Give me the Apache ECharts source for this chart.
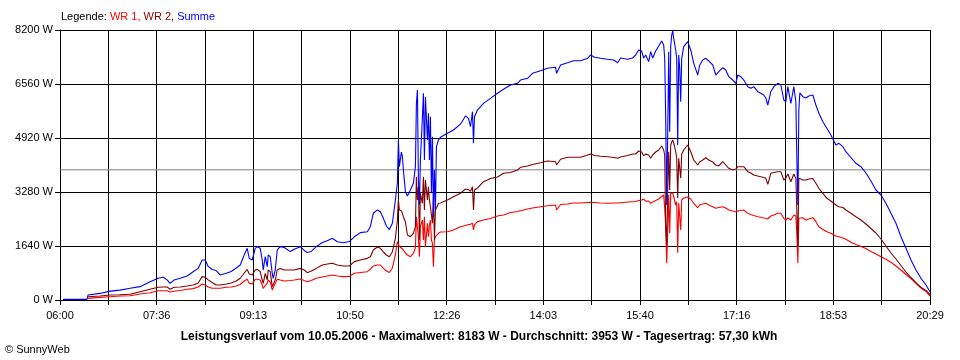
<!DOCTYPE html>
<html><head><meta charset="utf-8">
<script src="https://cdn.jsdelivr.net/npm/echarts@6/dist/echarts.min.js"></script>
<style>html,body{margin:0;padding:0;background:#fff}#c{width:960px;height:360px}</style>
</head><body><div id="c"></div>
<script>
const xTickLabels = ['06:00','07:36','09:13','10:50','12:26','14:03','15:40','17:16','18:53','20:29'];
const yMax = 8200;
const yStep = 1640;
const average = 3953;
const titleText = 'Leistungsverlauf vom 10.05.2006 - Maximalwert: 8183 W - Durchschnitt: 3953 W - Tagesertrag: 57,30 kWh';
const copyrightText = '\u00A9 SunnyWeb';
const seriesNames = ['WR 1', 'WR 2', 'Summe'];

const times = ['06:03','06:27','06:28','06:40','06:50','07:00','07:10','07:20','07:30','07:38','07:43','07:47','07:50','07:54','08:00','08:07','08:13','08:18','08:22','08:25','08:28','08:32','08:36','08:40','08:46','08:51','08:56','09:00','09:04','09:07','09:09','09:12','09:15','09:17','09:20','09:22','09:23','09:25','09:27','09:28','09:30','09:32','09:33','09:35','09:37','09:40','09:44','09:50','09:54','10:00','10:04','10:07','10:11','10:16','10:22','10:27','10:32','10:37','10:43','10:49','10:54','11:00','11:07','11:10','11:13','11:17','11:20','11:23','11:26','11:29','11:32','11:35','11:37','11:38','11:39','11:41','11:42','11:43','11:45','11:47','11:50','11:53','11:55','11:56','11:57','11:58','11:59','12:00','12:02','12:03','12:04','12:05','12:07','12:08','12:09','12:10','12:11','12:12','12:13','12:14','12:15','12:16','12:18','12:20','12:27','12:33','12:40','12:45','12:48','12:50','12:52','12:53','12:54','12:57','13:03','13:10','13:17','13:23','13:30','13:37','13:40','13:47','13:52','14:00','14:07','14:15','14:16','14:20','14:27','14:33','14:40','14:47','14:50','14:54','15:00','15:07','15:13','15:17','15:20','15:27','15:32','15:35','15:38','15:41','15:43','15:45','15:48','15:50','15:52','15:55','15:58','16:01','16:03','16:04','16:05','16:06','16:07','16:08','16:09','16:10','16:11','16:12','16:13','16:15','16:16','16:17','16:18','16:19','16:20','16:21','16:23','16:27','16:30','16:33','16:37','16:39','16:42','16:45','16:48','16:52','16:55','16:58','17:02','17:05','17:08','17:12','17:15','17:17','17:20','17:23','17:27','17:30','17:33','17:37','17:40','17:43','17:45','17:47','17:50','17:53','17:57','18:00','18:03','18:05','18:07','18:10','18:13','18:15','18:16','18:17','18:18','18:19','18:22','18:25','18:28','18:32','18:35','18:38','18:42','18:46','18:50','18:55','18:58','19:02','19:05','19:10','19:15','19:20','19:25','19:30','19:35','19:40','19:45','19:50','19:55','20:00','20:05','20:10','20:15','20:20','20:25','20:29'];

const wr1 = [null,null,50,80,100,120,130,180,220,280,280,280,245,265,290,325,345,395,485,455,395,355,355,355,385,395,425,470,577,630,505,485,630,630,607,456,355,440,505,607,547,304,250,505,630,607,577,590,607,640,590,555,590,660,700,730,760,730,710,715,810,835,860,940,1033,1063,1063,963,880,835,972,1367,1770,1770,1620,1579,1610,1519,1427,1367,1315,1418,1579,2530,2226,1922,1315,2226,2430,1822,2530,1619,2330,1922,2278,2430,1822,1722,1011,1822,1922,1944,2026,2065,2074,2126,2226,2260,2290,2300,2330,2130,2280,2380,2430,2475,2550,2580,2657,2688,2712,2764,2794,2834,2864,2885,2733,2900,2916,2946,2946,2961,2967,2960,2946,2937,2946,2946,2955,2976,2985,2990,3020,3037,3067,3000,3007,2937,2976,3022,3067,3143,3189,2785,2226,1115,2074,3189,2035,3240,3240,3250,3128,2885,2985,1436,2937,2885,2126,3037,3098,3128,3067,2937,2803,2885,2916,2937,2885,2833,2785,2809,2833,2794,2733,2703,2682,2703,2718,2733,2633,2597,2566,2530,2511,2490,2481,2460,2551,2581,2633,2633,2481,2430,2490,2430,2581,2551,1974,1115,2481,2521,2500,2430,2460,2500,2378,2226,2141,2074,2026,1944,1922,1883,1843,1752,1686,1625,1564,1473,1397,1315,1236,1145,1033,911,774,647,507,364,258,120];

const wr2 = [null,null,100,120,150,160,175,250,325,385,395,395,325,385,395,425,455,515,710,690,610,530,455,455,485,515,575,660,820,930,790,760,910,930,860,607,505,810,607,911,860,405,355,607,911,960,910,910,910,960,910,830,880,960,1063,1093,1115,1063,1033,1033,1165,1215,1265,1315,1519,1610,1570,1458,1367,1315,1467,1875,2430,3037,2733,2703,2633,2530,2369,1974,1922,2025,2226,3745,3037,3441,1822,3240,2937,3745,2733,3644,3037,3441,3037,2833,2581,2329,3137,1822,2733,2794,2937,2946,3037,3137,3240,3370,3350,3300,3440,2733,3340,3400,3593,3690,3735,3848,3872,3948,4030,4070,4115,4170,4221,4200,4100,4273,4334,4334,4334,4404,4434,4388,4364,4352,4328,4303,4343,4388,4434,4434,4525,4495,4383,4430,4404,4303,4404,4495,4556,4677,4556,4404,2278,1670,3289,4505,3340,4707,4798,4860,4768,4504,4313,3089,4303,4252,3696,4434,4556,4707,4504,4252,4100,4191,4252,4322,4252,4191,4100,4070,4200,4100,4000,3948,3978,4048,4048,4048,3897,3857,3796,3766,3745,3720,3696,3514,3848,3872,3897,3897,3644,3705,3827,3593,3827,3696,2682,1640,3696,3705,3644,3644,3675,3690,3544,3392,3240,3089,3007,2885,2833,2809,2733,2633,2530,2430,2308,2171,2035,1853,1640,1427,1245,1048,850,683,531,380,289,167];

const summe = [20,20,150,200,270,300,355,405,555,660,690,610,505,610,660,730,860,960,1215,1215,1020,925,895,760,810,865,970,1063,1367,1570,1265,1215,1570,1620,1570,1215,911,1315,1010,1367,1315,810,660,911,1519,1620,1595,1470,1540,1620,1505,1440,1475,1620,1745,1800,1875,1770,1740,1775,1920,2045,2075,2225,2635,2735,2680,2480,2247,2140,2330,3037,3545,4860,4050,4495,4352,3948,3290,3158,3341,3545,4050,5975,6378,3644,2900,4250,5567,6277,4252,6174,4859,5670,4252,5567,3240,4960,2530,3948,2733,4656,4859,4941,5063,5163,5340,5590,5518,5263,5720,4758,5567,5770,5973,6125,6277,6399,6530,6581,6681,6733,6884,6964,7037,7067,6885,7137,7207,7268,7268,7340,7441,7370,7340,7310,7289,7207,7350,7310,7350,7441,7593,7560,7350,7440,7239,7541,7350,7562,7714,7866,7745,7341,5518,2885,5011,7541,5112,7700,8048,8183,7947,7593,7341,4707,7441,7037,6022,7341,7693,7845,7593,7188,6833,7137,7289,7341,7259,7137,6833,6934,7055,6985,6782,6681,6581,6833,6782,6681,6479,6429,6479,6326,6277,6226,6135,5922,6326,6479,6581,6530,6074,6022,6479,5970,6479,6022,4303,2885,5770,6290,6176,6135,6196,6226,5922,5670,5415,5214,5011,4707,4758,4656,4504,4328,4152,4048,3857,3614,3341,3189,2937,2633,2329,1922,1570,1215,911,659,456,252];

const startMin = 6 * 60;
const endMin = 20 * 60 + 29;
const span = endMin - startMin;
const xStep = span / 18;
function toX(t) { const p = t.split(':').map(Number); return p[0] * 60 + p[1] - startMin; }
const pairs = arr => times.map((t, i) => [toX(t), arr[i]]);

const FONT = 'Liberation Sans, Arial, sans-serif';
const chart = echarts.init(document.getElementById('c'), null, { renderer: 'canvas' });
const lineSeries = (name, data, color, z) => ({
  name, type: 'line', data: pairs(data), showSymbol: false, symbol: 'none',
  lineStyle: { color, width: 1.1 }, itemStyle: { color }, z, animation: false, connectNulls: false
});

chart.setOption({
  backgroundColor: '#ffffff',
  animation: false,
  textStyle: { fontFamily: FONT },
  grid: { left: 60, right: 30, top: 30, bottom: 60, containLabel: false },
  xAxis: {
    type: 'value', min: 0, max: span, interval: xStep,
    axisLine: { show: true, lineStyle: { color: '#000', width: 1 } },
    axisTick: { show: true, length: 5, lineStyle: { color: '#000', width: 1 } },
    splitLine: { show: true, lineStyle: { color: '#000', width: 1 } },
    axisLabel: {
      color: '#000', fontSize: 11, fontFamily: FONT, margin: 10, hideOverlap: false,
      showMinLabel: true, showMaxLabel: true,
      formatter: v => { const k = Math.round(v / xStep); return k % 2 === 0 ? xTickLabels[k / 2] : ''; }
    }
  },
  yAxis: {
    type: 'value', min: 0, max: yMax, interval: yStep,
    axisLine: { show: true, lineStyle: { color: '#000', width: 1 } },
    axisTick: { show: true, length: 5, lineStyle: { color: '#000', width: 1 } },
    splitLine: { show: true, lineStyle: { color: '#000', width: 1 } },
    axisLabel: { color: '#000', fontSize: 11, fontFamily: FONT, margin: 7, formatter: v => String(Math.round(v)) + ' W' }
  },
  series: [
    { name: 'avg', type: 'line', data: [[0, average], [span, average]], showSymbol: false, symbol: 'none',
      lineStyle: { color: '#808080', width: 1 }, z: 1, silent: true },
    lineSeries(seriesNames[0], wr1, '#ff0000', 3),
    lineSeries(seriesNames[1], wr2, '#800000', 4),
    lineSeries(seriesNames[2], summe, '#0000ff', 5)
  ],
  graphic: [
    { type: 'text', left: 61, top: 11, style: {
        text: '{k|Legende: }{a|' + seriesNames[0] + ', }{b|' + seriesNames[1] + ', }{c|' + seriesNames[2] + '}',
        rich: {
          k: { fill: '#000', fontSize: 11, fontFamily: FONT },
          a: { fill: '#ff0000', fontSize: 11, fontFamily: FONT },
          b: { fill: '#800000', fontSize: 11, fontFamily: FONT },
          c: { fill: '#0000ff', fontSize: 11, fontFamily: FONT }
        } } },
    { type: 'text', x: 479, y: 337, style: { text: titleText, fill: '#000', font: 'bold 12px ' + FONT, textAlign: 'center', textVerticalAlign: 'middle' } },
    { type: 'text', x: 5, y: 350, style: { text: copyrightText, fill: '#000', font: '11px ' + FONT, textAlign: 'left', textVerticalAlign: 'middle' } }
  ]
});
</script></body></html>
